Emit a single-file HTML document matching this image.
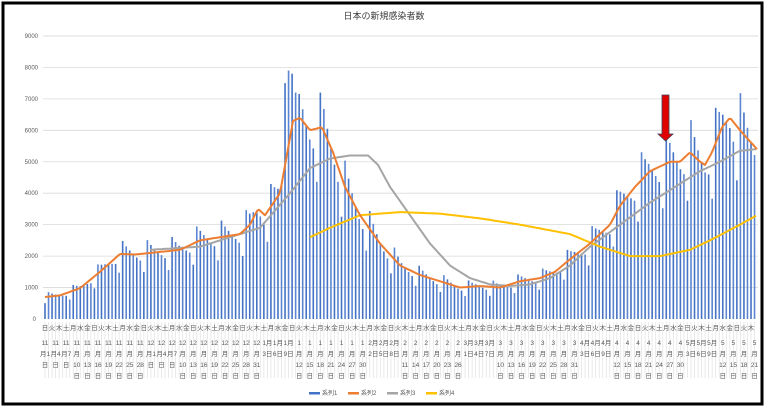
<!DOCTYPE html>
<html><head><meta charset="utf-8"><style>
html,body{margin:0;padding:0;background:#fff;width:768px;height:408px;overflow:hidden}
svg{display:block;font-family:"Liberation Sans","Noto Sans CJK JP",sans-serif}
</style></head><body>
<svg id="s" width="768" height="408" viewBox="0 0 768 408" xmlns="http://www.w3.org/2000/svg">
<rect x="0" y="0" width="768" height="408" fill="#fff"/>
<g id="bg"></g>
<text x="384" y="19" font-size="9" text-anchor="middle" fill="#404040">日本の新規感染者数</text>
<g id="grid"></g>
<g id="bars"></g>
<g id="lines"></g>
<g id="labels"></g>
<polygon points="662,95 669,95 669,134 673,134 665.5,141 658,134 662,134" fill="#e00000" stroke="#40405a" stroke-width="0.8"/>
<g font-size="6" fill="#595959">
<rect x="309" y="392" width="11" height="2.5" fill="#4472c4"/><text x="322" y="395">系列1</text>
<rect x="348" y="392" width="11" height="2.5" fill="#ed7d31"/><text x="361" y="395">系列2</text>
<rect x="387" y="392" width="11" height="2.5" fill="#a5a5a5"/><text x="400" y="395">系列3</text>
<rect x="426" y="392" width="11" height="2.5" fill="#ffc000"/><text x="439" y="395">系列4</text>
</g>
<rect x="3" y="3" width="759" height="401" fill="none" stroke="#000" stroke-width="3"/>
</svg>
<script>
const NS="http://www.w3.org/2000/svg";
function el(p,t,a,txt){const e=document.createElementNS(NS,t);for(const k in a)e.setAttribute(k,a[k]);if(txt!==undefined)e.textContent=txt;document.getElementById(p).appendChild(e);return e;}
const X0=45,DX=3.53,Y0=319,SC=31.45/1000;
const N=202;
const xd=d=>X0+d*DX, yv=v=>Y0-v*SC;
for(let i=0;i<=9;i++){const y=Y0-i*1000*SC;
 if(i>0)el("grid","line",{x1:43,x2:758,y1:y,y2:y,stroke:"#d9d9d9","stroke-width":0.8});
 el("grid","text",{x:i?38:36,y:y+2,"font-size":6,fill:"#595959","text-anchor":"end"},i?String(i*1000):"0");}
function interp(pts,x){if(x<=pts[0][0])return pts[0][1];for(let i=1;i<pts.length;i++){if(x<=pts[i][0]){const[a,b]=pts[i-1],[c,d]=pts[i];return b+(d-b)*(x-a)/(c-a);}}return pts[pts.length-1][1];}
const orange=[[45,700],[60,750],[80,980],[100,1500],[120,2070],[135,2050],[150,2100],[180,2200],[200,2500],[220,2600],[240,2700],[250,3000],[258,3500],[265,3300],[280,4000],[293,6300],[300,6400],[310,6000],[322,6100],[333,5300],[345,4200],[360,3300],[380,2400],[400,1700],[420,1400],[440,1200],[460,1000],[480,1050],[500,1000],[520,1200],[540,1300],[555,1500],[570,1900],[590,2400],[610,3000],[620,3600],[635,4200],[650,4700],[670,5000],[680,5000],[690,5300],[700,5000],[705,4900],[712,5300],[722,6100],[730,6400],[740,6000],[757,5400]];
const gray=[[150,2200],[200,2300],[240,2700],[260,2900],[290,4000],[310,4800],[330,5100],[350,5200],[368,5200],[378,4900],[390,4200],[410,3300],[430,2400],[450,1700],[470,1300],[490,1100],[510,1050],[530,1100],[550,1300],[570,1700],[590,2300],[620,3000],[650,3700],[680,4300],[700,4700],[720,5000],[740,5350],[757,5400]];
const yellow=[[310,2600],[330,2900],[360,3300],[400,3400],[440,3350],[480,3200],[520,3000],[570,2700],[600,2300],[630,2000],[660,2000],[690,2200],[710,2500],[740,3000],[757,3300]];
const wk=[0.72,1.2,1.12,1.06,1.0,0.95,0.9];
for(let d=0;d<N;d++){const x=xd(d);let v=interp(orange,x)*wk[d%7];
 if(v>7200)v=7200;
 if(d===68)v=7500;if(d===69)v=7900;if(d===70)v=7800;
 const w=1.6;el("bars","rect",{x:x-w/2,y:yv(v),width:w,height:v*SC,fill:d%2?"#5b85d0":"#4472c4"});
 el("bg","line",{x1:x,x2:x,y1:322,y2:378,stroke:"#e4e4e4","stroke-width":0.8});}
function line(pts,c){let s="";for(let x=pts[0][0];x<=pts[pts.length-1][0];x+=2)s+=x+","+yv(interp(pts,x)).toFixed(1)+" ";el("lines","polyline",{points:s,fill:"none",stroke:c,"stroke-width":2,"stroke-linejoin":"round"});}
line(gray,"#a5a5a5");line(yellow,"#ffc000");line(orange,"#ed7d31");
const wd="日月火水木金土";
const months=[[11,30],[12,31],[1,31],[2,28],[3,31],[4,30],[5,31]];
let dates=[];for(const[m,n]of months)for(let i=1;i<=n;i++)dates.push([m,i]);
for(let d=0;d<N;d+=2)el("labels","text",{x:xd(d),y:330,"font-size":6.5,fill:"#595959","text-anchor":"middle"},wd[d%7]);
for(let d=0;d<N;d+=3){const[m,dy]=dates[d];const x=xd(d);let ls;
 if(dy<10)ls=[String(m),"月"+dy,"日"];else ls=[String(m),"月",String(dy),"日"];
 if(m<10&&dy<10)ls=[m+"月",dy+"日"];
 ls.forEach((t,i)=>el("labels","text",{x:x,y:345+i*11,"font-size":6.5,fill:"#595959","text-anchor":"middle"},t));}
</script>
</body></html>
